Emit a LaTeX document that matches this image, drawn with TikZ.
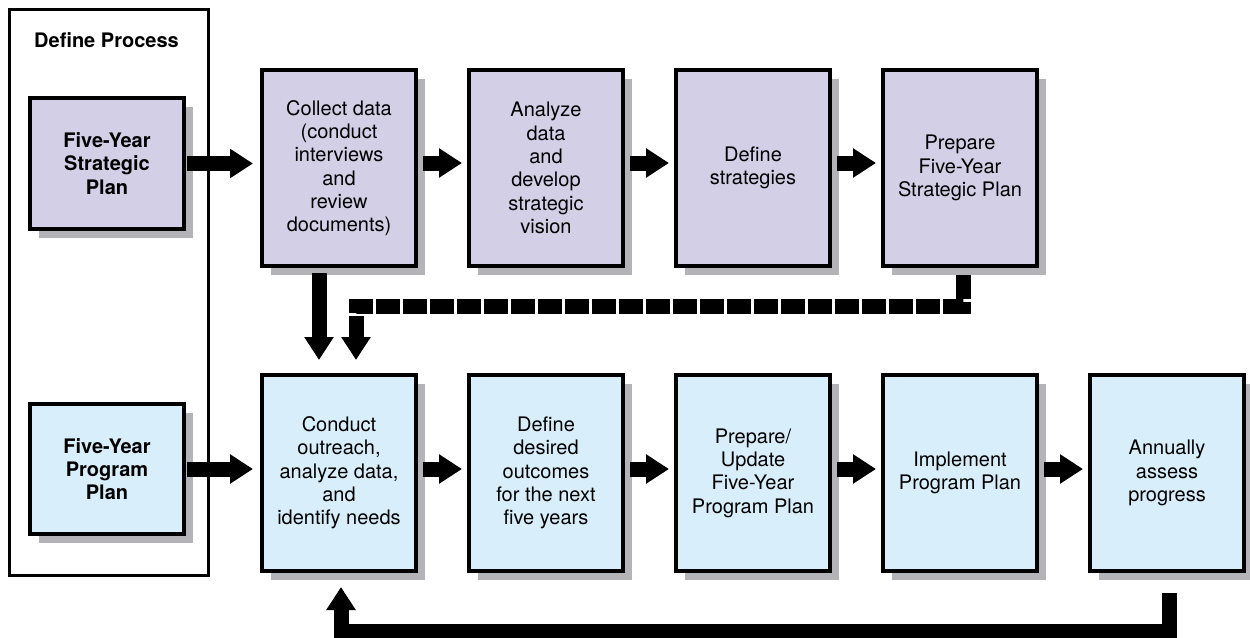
\documentclass[tikz,border=0pt]{standalone}
\usepackage{fontspec}
\setmainfont{TeX Gyre Heros}
\usepackage{tikz}
\usetikzlibrary{arrows.meta,shadows}
\definecolor{stratfill}{HTML}{D2CFE6}
\definecolor{progfill}{HTML}{D9EEFB}
\definecolor{shadowgray}{HTML}{B4B4B8}

\begin{document}
\begin{tikzpicture}[x=0.5pt,y=-0.5pt,
  box/.style={draw, line width=2pt, minimum width=77pt, minimum height=98pt,
    align=center, inner sep=2pt, font=\fontsize{10}{11.65}\selectfont,
    drop shadow={shadow xshift=4.5pt,shadow yshift=-4.5pt,fill=shadowgray,opacity=1}},
  sidebox/.style={box, minimum height=65.5pt, font=\fontsize{10}{11.65}\selectfont\bfseries},
  flow/.style={line width=7.5pt, -{Triangle[length=11.5pt,width=14pt]}},
  dashflow/.style={flow, dash pattern=on 12pt off 1.5pt}]
\useasboundingbox (0,0) rectangle (1250,638);

\node[draw, line width=1.5pt, minimum width=99.5pt, minimum height=283pt] (process) at (109,292.5) {};
\node[font=\fontsize{10}{11.65}\selectfont\bfseries] (processlabel) at (106.5,40) {Define Process};

\node[sidebox, fill=stratfill] (strategic) at (107,163.5) {Five-Year\\Strategic\\Plan};
\node[sidebox, fill=progfill, minimum height=65pt] (program) at (107,469) {Five-Year\\Program\\Plan};

\node[box, fill=stratfill] (collect) at (339,168) {Collect data\\(conduct\\interviews\\and\\review\\documents)};
\node[box, fill=stratfill] (analyze) at (546,168) {Analyze\\data\\and\\develop\\strategic\\vision};
\node[box, fill=stratfill] (strategies) at (753,168) {Define\\strategies};
\node[box, fill=stratfill] (prepare) at (960,168) {Prepare\\Five-Year\\Strategic Plan};

\node[box, fill=progfill] (conduct) at (339,473) {Conduct\\outreach,\\analyze data,\\and\\identify needs};
\node[box, fill=progfill] (outcomes) at (546,473) {Define\\desired\\outcomes\\for the next\\five years};
\node[box, fill=progfill] (update) at (753,473) {Prepare/\\Update\\Five-Year\\Program Plan};
\node[box, fill=progfill] (implement) at (960,473) {Implement\\Program Plan};
\node[box, fill=progfill] (annually) at (1167,473) {Annually\\assess\\progress};

\draw[flow, shorten <=0.5pt, shorten >=3.5pt] (strategic.east) -- (strategic.east -| collect.west);
\draw[flow, shorten <=0.5pt, shorten >=3.5pt] (program.east) -- (program.east -| conduct.west);

\foreach \a/\b in {collect/analyze,analyze/strategies,strategies/prepare}
  \draw[flow, shorten <=2.5pt, shorten >=2.5pt] ([yshift=2.5pt]\a.east) -- ([yshift=2.5pt]\b.west);
\foreach \a/\b in {conduct/outcomes,outcomes/update,update/implement,implement/annually}
  \draw[flow, shorten <=2.5pt, shorten >=2.5pt] ([yshift=2pt]\a.east) -- ([yshift=2pt]\b.west);

\draw[flow, shorten <=2.5pt, shorten >=6.5pt] ([xshift=-10pt]collect.south) -- ([xshift=-10pt]conduct.north);

\coordinate (dashturn) at (356,306);
\draw[dashflow, shorten <=3.5pt, shorten >=6.5pt] ([xshift=1.5pt]prepare.south) |- (dashturn) -- (dashturn |- conduct.north);

\coordinate (backturn) at (341,631);
\draw[flow, shorten <=10pt, shorten >=7pt] ([xshift=1pt]annually.south) |- (backturn) -- (backturn |- conduct.south);
\end{tikzpicture}
\end{document}
